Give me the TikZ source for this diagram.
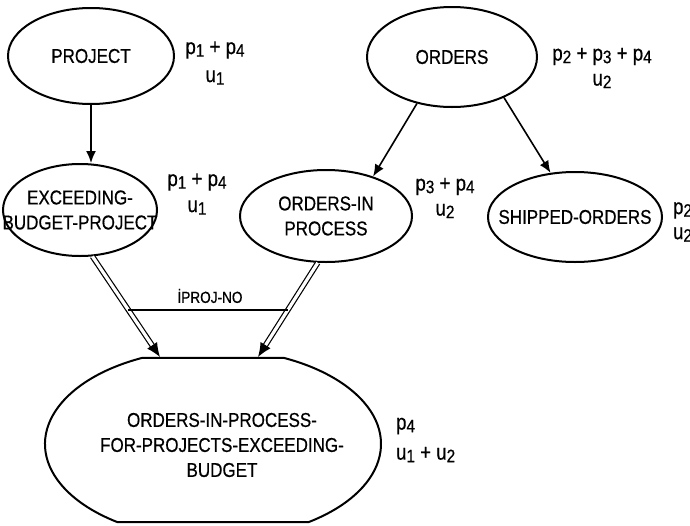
\documentclass[tikz,border=0pt]{standalone}
\usepackage{fontspec}
\setmainfont[FakeStretch=0.85, FakeBold=0.6]{Liberation Sans}
\usetikzlibrary{shapes.geometric, arrows.meta, calc}
\newcommand{\lsub}[1]{\raisebox{-1.3pt}{\fontsize{9}{10}\selectfont #1}}

\begin{document}
\begin{tikzpicture}[x=0.5pt, y=-0.5pt,
  font=\fontsize{10}{12.5}\selectfont,
  ent/.style={ellipse, draw, line width=1pt, align=center, inner xsep=-14pt},
  lab/.style={font=\fontsize{11}{13}\selectfont},
  arr/.style={-{Latex[length=6pt,width=5pt]}, line width=0.8pt},
  dbl/.style={double, double distance=1.6pt, line width=0.6pt, -{Latex[length=7pt,width=6pt]}}]
  \useasboundingbox (0,0) rectangle (690,525);
  \node[ent, minimum width=83pt, minimum height=48pt] (proj) at (91,56) {PROJECT};
  \node[ent, minimum width=85pt, minimum height=50pt] (ord) at (452,57) {ORDERS};
  \node[ent, minimum width=77pt, minimum height=46pt] (exc) at (80,210) {EXCEEDING-\\BUDGET-PROJECT};
  \node[ent, minimum width=86pt, minimum height=46pt] (oip) at (326,216) {ORDERS-IN\\PROCESS};
  \node[ent, minimum width=87pt, minimum height=45pt] (ship) at (575,217) {SHIPPED-ORDERS};
  \coordinate (bc) at (213,444);
  \draw[line width=1pt] ($(bc)+(115.1:84pt and 47.5pt)$)
    arc[start angle=115.1, end angle=235.2, x radius=84pt, y radius=47.5pt]
    -- ($(bc)+(304.8:84pt and 47.5pt)$)
    arc[start angle=304.8, end angle=424.9, x radius=84pt, y radius=47.5pt] -- cycle;
  \node[align=center] (bot) at (222,445) {ORDERS-IN-PROCESS-\\FOR-PROJECTS-EXCEEDING-\\BUDGET};
  \coordinate (t1) at (160,357);
  \coordinate (t2) at (258,357);
  \node[lab, align=center] (lproj) at (215,63) {p\lsub{1} + p\lsub{4}\\[1pt]u\lsub{1}};
  \node[lab, align=center] (lexc) at (197,194) {p\lsub{1} + p\lsub{4}\\u\lsub{1}};
  \node[lab, align=center] (loip) at (445,198) {p\lsub{3} + p\lsub{4}\\[-0.5pt]u\lsub{2}};
  \node[lab, align=center] (lord) at (602,68) {p\lsub{2} + p\lsub{3} + p\lsub{4}\\[-0.5pt]u\lsub{2}};
  \node[lab, align=left, anchor=west] (lship) at (666,222) {p\lsub{2}\\[-0.5pt]u\lsub{2}};
  \node[lab, align=left, anchor=west] (lbot) at (389,440) {p\lsub{4}\\[2pt]u\lsub{1} + u\lsub{2}};
  \draw[arr] (proj) -- (proj |- exc.north);
  \draw[arr] (ord.-127) -- (oip.40);
  \draw[arr] (ord.-38) -- (ship.119);
  \draw[dbl] (exc.-75) -- (t1);
  \draw[dbl] (oip.-100) -- (t2);
  \coordinate (h1) at ($(exc.-75)!0.53!(t1)$);
  \coordinate (h2) at ($(oip.-100)!0.5!(t2)$);
  \draw[line width=0.8pt] (h1) -- (h1 -| h2);
  \node[font=\fontsize{8}{9}\selectfont] (key) at (210,296) {İPROJ-NO};
\end{tikzpicture}
\end{document}
